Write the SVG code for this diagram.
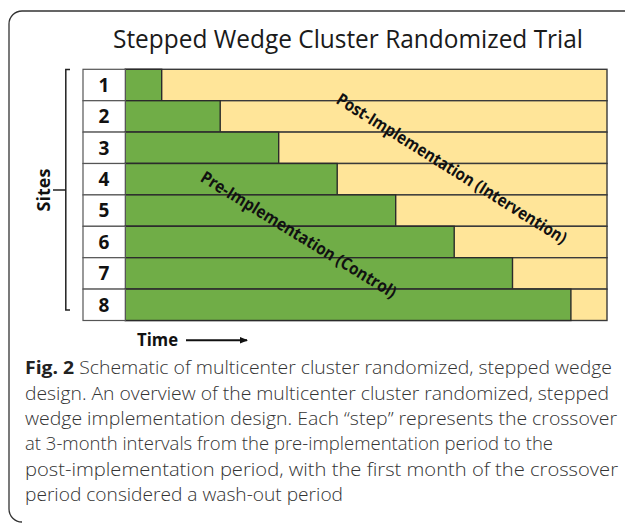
<svg xmlns="http://www.w3.org/2000/svg" width="625" height="523" viewBox="0 0 625 523">
  <style>
    .frame { fill: none; stroke: #333; stroke-width: 1.3; }
    .title { font-family: "Open Sans", "Noto Sans", sans-serif; font-size: 26px; fill: #1a1a1a; }
    .cell { fill: #ffffff; stroke: #555; stroke-width: 1.2; }
    .pre { fill: #70AD47; stroke: #2b2b2b; stroke-width: 1.4; }
    .post { fill: #FFE599; stroke: #3a3a3a; stroke-width: 1.4; }
    .num { font-family: "Open Sans", "Noto Sans", sans-serif; font-weight: bold; font-size: 19px; fill: #111; text-anchor: middle; }
    .axis { font-family: "Open Sans", "Noto Sans", sans-serif; font-weight: bold; font-size: 18px; fill: #111; }
    .phase { font-family: "Open Sans", "Noto Sans", sans-serif; font-weight: bold; font-size: 17px; fill: #111; text-anchor: middle; dominant-baseline: central; }
    .bracket { fill: none; stroke: #222; stroke-width: 1.5; }
    .caption { font-family: "Open Sans", "Noto Sans", sans-serif; font-weight: 300; font-size: 18px; fill: #333; }
    .caption .lead { font-weight: bold; fill: #222; }
  </style>
  <defs>
    <marker id="arrow" markerWidth="8" markerHeight="8" refX="7" refY="4" orient="auto" markerUnits="userSpaceOnUse">
      <path d="M0,0.8 L8,4 L0,7.2 Z" fill="#111"/>
    </marker>
  </defs>

  <!-- outer figure frame -->
  <path class="frame" d="M625 11 H22 A13 13 0 0 0 9 24 V509 A13 13 0 0 0 22 522"/>

  <text class="title" x="348" y="48" text-anchor="middle" textLength="470" lengthAdjust="spacingAndGlyphs">Stepped Wedge Cluster Randomized Trial</text>

  <!-- sites bracket -->
  <g id="sites-axis">
    <path class="bracket" d="M70 69.5 H65.8 V310 H70 M65.8 190 H53"/>
    <text class="axis" transform="translate(49.5 190) rotate(-90)" text-anchor="middle">Sites</text>
  </g>

  <!-- one row per site: label cell, pre-implementation bar, post-implementation bar -->
  <g id="site-1">
    <rect class="post" x="125.3" y="69.3" width="481.7" height="31.4"/>
    <rect class="pre" x="125.3" y="69.3" width="36.4" height="31.4"/>
    <rect class="cell" x="83" y="69.3" width="42.3" height="31.4"/>
    <text class="num" x="104" y="91.8">1</text>
  </g>
  <g id="site-2">
    <rect class="post" x="125.3" y="100.7" width="481.7" height="31.4"/>
    <rect class="pre" x="125.3" y="100.7" width="94.9" height="31.4"/>
    <rect class="cell" x="83" y="100.7" width="42.3" height="31.4"/>
    <text class="num" x="104" y="123.2">2</text>
  </g>
  <g id="site-3">
    <rect class="post" x="125.3" y="132.1" width="481.7" height="31.4"/>
    <rect class="pre" x="125.3" y="132.1" width="153.4" height="31.4"/>
    <rect class="cell" x="83" y="132.1" width="42.3" height="31.4"/>
    <text class="num" x="104" y="154.6">3</text>
  </g>
  <g id="site-4">
    <rect class="post" x="125.3" y="163.5" width="481.7" height="31.4"/>
    <rect class="pre" x="125.3" y="163.5" width="211.9" height="31.4"/>
    <rect class="cell" x="83" y="163.5" width="42.3" height="31.4"/>
    <text class="num" x="104" y="186">4</text>
  </g>
  <g id="site-5">
    <rect class="post" x="125.3" y="194.9" width="481.7" height="31.4"/>
    <rect class="pre" x="125.3" y="194.9" width="270.4" height="31.4"/>
    <rect class="cell" x="83" y="194.9" width="42.3" height="31.4"/>
    <text class="num" x="104" y="217.4">5</text>
  </g>
  <g id="site-6">
    <rect class="post" x="125.3" y="226.3" width="481.7" height="31.4"/>
    <rect class="pre" x="125.3" y="226.3" width="328.9" height="31.4"/>
    <rect class="cell" x="83" y="226.3" width="42.3" height="31.4"/>
    <text class="num" x="104" y="248.8">6</text>
  </g>
  <g id="site-7">
    <rect class="post" x="125.3" y="257.7" width="481.7" height="31.4"/>
    <rect class="pre" x="125.3" y="257.7" width="387.2" height="31.4"/>
    <rect class="cell" x="83" y="257.7" width="42.3" height="31.4"/>
    <text class="num" x="104" y="280.2">7</text>
  </g>
  <g id="site-8">
    <rect class="post" x="125.3" y="289.1" width="481.7" height="31.4"/>
    <rect class="pre" x="125.3" y="289.1" width="445.6" height="31.4"/>
    <rect class="cell" x="83" y="289.1" width="42.3" height="31.4"/>
    <text class="num" x="104" y="311.6">8</text>
  </g>

  <!-- phase labels across the wedge -->
  <text class="phase" transform="translate(452 168) rotate(32)" textLength="268" lengthAdjust="spacingAndGlyphs">Post-Implementation (Intervention)</text>
  <text class="phase" transform="translate(299 234) rotate(31.5)" textLength="226" lengthAdjust="spacingAndGlyphs">Pre-Implementation (Control)</text>

  <!-- time axis -->
  <g id="time-axis">
    <text class="axis" x="137" y="346" textLength="41" lengthAdjust="spacingAndGlyphs">Time</text>
    <g id="connectors">
      <line x1="186" y1="340.3" x2="247" y2="340.3" stroke="#111" stroke-width="2" marker-end="url(#arrow)"/>
    </g>
  </g>

  <!-- caption -->
  <text class="caption" x="25" y="374" textLength="587" lengthAdjust="spacingAndGlyphs"><tspan class="lead">Fig. 2</tspan> Schematic of multicenter cluster randomized, stepped wedge</text>
  <text class="caption" x="25" y="399.5" textLength="584" lengthAdjust="spacingAndGlyphs">design. An overview of the multicenter cluster randomized, stepped</text>
  <text class="caption" x="25" y="425" textLength="592" lengthAdjust="spacingAndGlyphs">wedge implementation design. Each “step” represents the crossover</text>
  <text class="caption" x="25" y="450" textLength="528" lengthAdjust="spacingAndGlyphs">at 3-month intervals from the pre-implementation period to the</text>
  <text class="caption" x="25" y="475.5" textLength="593" lengthAdjust="spacingAndGlyphs">post-implementation period, with the first month of the crossover</text>
  <text class="caption" x="25" y="501" textLength="318" lengthAdjust="spacingAndGlyphs">period considered a wash-out period</text>
</svg>
